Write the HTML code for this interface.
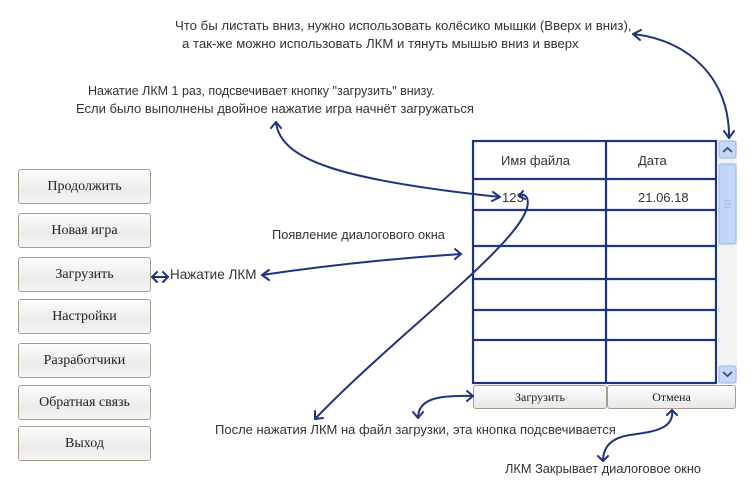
<!DOCTYPE html>
<html><head><meta charset="utf-8"><style>
body{margin:0;width:751px;height:482px;background:#fff;position:relative;overflow:hidden;font-family:"Liberation Sans",sans-serif;}
.b{position:absolute;left:18px;width:131px;height:33px;border:1px solid #a89c8c;border-radius:3px;background:linear-gradient(#fdfdfd,#ebebeb 60%,#f5f5f5);font-family:"Liberation Serif",serif;font-size:14px;color:#222;text-align:center;line-height:33px;}
.t{position:absolute;font-size:12.5px;color:#333;white-space:nowrap;}
.sb{position:absolute;font-family:"Liberation Serif",serif;font-size:12px;color:#222;text-align:center;border:1px solid #a89c8c;border-radius:3px;background:linear-gradient(#fdfdfd,#e8e8e8);height:22px;line-height:22px;}
</style></head><body>
<div class="b" style="top:169px">Продолжить</div>
<div class="b" style="top:213px">Новая игра</div>
<div class="b" style="top:257px">Загрузить</div>
<div class="b" style="top:299px">Настройки</div>
<div class="b" style="top:343px">Разработчики</div>
<div class="b" style="top:385px">Обратная связь</div>
<div class="b" style="top:426px">Выход</div>

<div class="t" style="left:175px;top:18px;font-size:13.2px">Что бы листать вниз, нужно использовать колёсико мышки (Вверх и вниз),</div>
<div class="t" style="left:182px;top:36px;font-size:13.2px">а так-же можно использовать ЛКМ и тянуть мышью вниз и вверх</div>
<div class="t" style="left:88px;top:84px">Нажатие ЛКМ 1 раз, подсвечивает кнопку "загрузить" внизу.</div>
<div class="t" style="left:76px;top:101px;font-size:13px">Если было выполнены двойное нажатие игра начнёт загружаться</div>
<div class="t" style="left:272px;top:227px;font-size:12.8px">Появление диалогового окна</div>
<div class="t" style="left:170px;top:267px;font-size:13.5px">Нажатие ЛКМ</div>
<div class="t" style="left:215px;top:422px;font-size:13px">После нажатия ЛКМ на файл загрузки, эта кнопка подсвечивается</div>
<div class="t" style="left:505px;top:461px;font-size:12.8px">ЛКМ Закрывает диалоговое окно</div>

<div class="t" style="left:501px;top:153px;font-size:13px">Имя файла</div>
<div class="t" style="left:638px;top:153px;font-size:13px">Дата</div>
<div class="t" style="left:502px;top:190px;font-size:13px">123</div>
<div class="t" style="left:638px;top:190px;font-size:13px">21.06.18</div>

<div class="sb" style="left:473px;top:385px;width:132px">Загрузить</div>
<div class="sb" style="left:607px;top:385px;width:127px">Отмена</div>

<svg width="751" height="482" style="position:absolute;left:0;top:0">
<g stroke="#1f3380" stroke-width="2.2" fill="none">
<rect x="473" y="141" width="243" height="242"/>
<line x1="606" y1="141" x2="606" y2="383"/>
<line x1="473" y1="179" x2="716" y2="179"/>
<line x1="473" y1="210" x2="716" y2="210"/>
<line x1="473" y1="246" x2="716" y2="246"/>
<line x1="473" y1="279" x2="716" y2="279"/>
<line x1="473" y1="310" x2="716" y2="310"/>
<line x1="473" y1="340" x2="716" y2="340"/>
</g>
<rect x="718" y="140" width="19" height="244" fill="#f3f3f1"/>
<rect x="719" y="141" width="17" height="17" rx="2" fill="#c6d8f7" stroke="#9db6e0"/>
<path d="M723 152 l4.5 -4 l4.5 4" stroke="#3a4c7a" stroke-width="1.8" fill="none"/>
<rect x="719" y="164" width="17" height="80" rx="2" fill="#c3d6f8" stroke="#9db6e0"/>
<path d="M724 201h7M724 204h7M724 207h7" stroke="#9db6e0"/>
<rect x="719" y="366" width="17" height="17" rx="2" fill="#c6d8f7" stroke="#9db6e0"/>
<path d="M723 372 l4.5 4 l4.5 -4" stroke="#3a4c7a" stroke-width="1.8" fill="none"/>

<g stroke="#1f3380" stroke-width="2" fill="none" stroke-linecap="round" stroke-linejoin="round">
<path d="M633 34 C690 40 730 80 729 138"/>
<path d="M641 30 L633 34 L640 40"/>
<path d="M724 131 L729 138 L734 131"/>
<path d="M276 122 C280 160 340 180 500 197"/>
<path d="M271 128 L276 122 L281 128"/>
<path d="M493 192 L500 197 L492 201"/>
<path d="M262 275 C330 265 400 258 461 254"/>
<path d="M269 270 L262 275 L269 280"/>
<path d="M455 249 L461 254 L455 259"/>
<path d="M152 277 L168 277"/>
<path d="M157 272 L152 277 L157 282"/>
<path d="M163 272 L168 277 L163 282"/>
<path d="M315 419 C400 330 540 230 527 198 C525 194 521 194 519 196"/>
<path d="M315 411 L315 419 L323 418"/>
<path d="M523 191 L519 196 L525 199"/>
<path d="M418 418 C418 398 440 395 473 396"/>
<path d="M413 412 L418 418 L423 412"/>
<path d="M467 391 L473 396 L467 401"/>
<path d="M672 410 C675 430 650 432 630 435 C610 438 603 448 603 461"/>
<path d="M667 415 L672 410 L677 415"/>
<path d="M598 456 L603 461 L608 456"/>
</g>
</svg>
</body></html>
